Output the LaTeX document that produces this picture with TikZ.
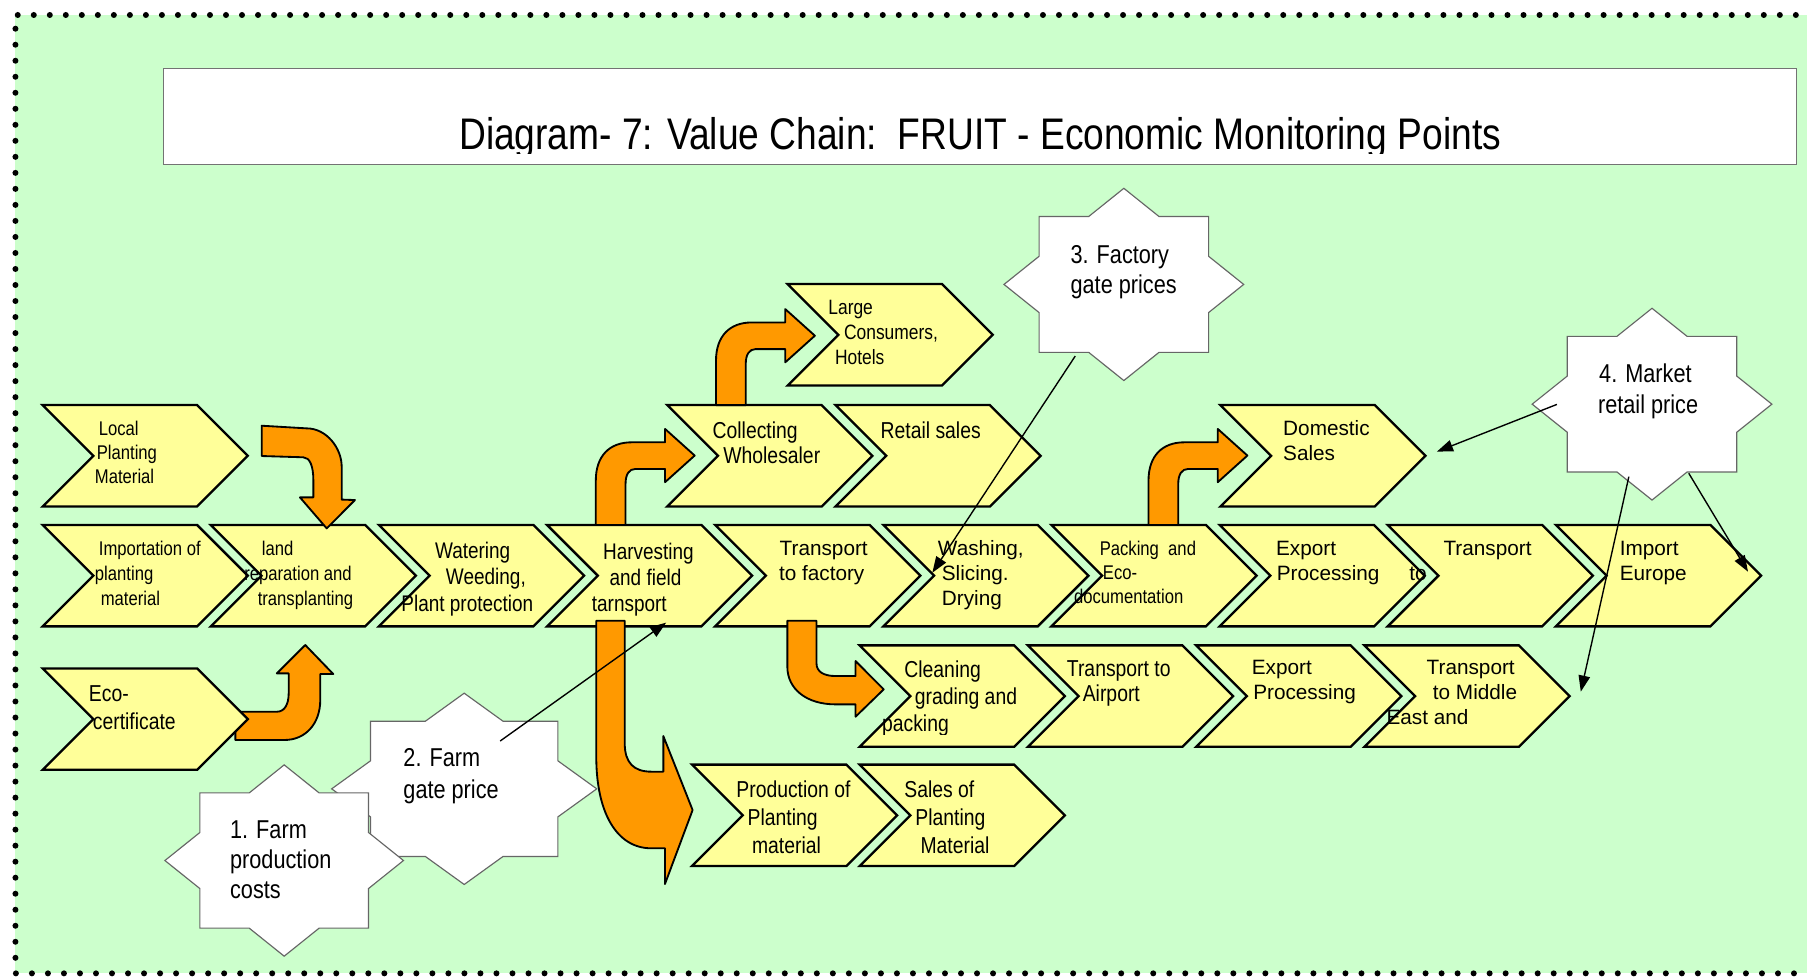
\documentclass[tikz,border=0pt]{standalone}
\usepackage{fontspec}
\setmainfont{Liberation Sans}
\newfontfamily\nar{Liberation Sans}[FakeStretch=0.84]
\newfontfamily\reg{Liberation Sans}
\usetikzlibrary{arrows.meta}
\definecolor{bgc}{HTML}{CCFFCC}
\definecolor{chevc}{HTML}{FFFF99}
\definecolor{orc}{HTML}{FF9900}
\newdimen\upx \upx=0.5pt
\newcommand\ind[1]{\hspace*{#1\upx}}
\newcommand\fs[2]{\fontsize{#1}{#2}\selectfont}
\newcommand\lns[1]{\begin{tabular}[t]{@{}l@{}}#1\end{tabular}}
\newcommand\chevron[3]{%
  \draw[chevsty] (#2,#3) -- ++(134,0) -- ++(44,44) -- ++(-44,44) -- ++(-134,0) -- ++(44,-44) -- cycle;
  \coordinate (#1) at ({#2+89},{#3+44});}
\newcommand\bendup[2]{%
  \draw[orsty,shift={(#1,#2)}] (0,0) -- (0,-38.5) .. controls (0,-60) and (12,-71.7) .. (31,-71.7) -- (60.1,-71.7) -- (60.1,-83.3) -- (85.8,-60.2) -- (60.1,-37.1) -- (60.1,-48.6) -- (34.4,-48.6) .. controls (29,-48.6) and (25.8,-44) .. (25.8,-35.6) -- (25.8,0) -- cycle;}
\newcommand\starb[4]{%
  \draw[starsty] ({#1},{#2-#4}) -- ({#1+0.293*#3},{#2-0.707*#4}) -- ({#1+0.707*#3},{#2-0.707*#4}) -- ({#1+0.707*#3},{#2-0.293*#4}) -- ({#1+#3},{#2}) -- ({#1+0.707*#3},{#2+0.293*#4}) -- ({#1+0.707*#3},{#2+0.707*#4}) -- ({#1+0.293*#3},{#2+0.707*#4}) -- ({#1},{#2+#4}) -- ({#1-0.293*#3},{#2+0.707*#4}) -- ({#1-0.707*#3},{#2+0.707*#4}) -- ({#1-0.707*#3},{#2+0.293*#4}) -- ({#1-#3},{#2}) -- ({#1-0.707*#3},{#2-0.293*#4}) -- ({#1-0.707*#3},{#2-0.707*#4}) -- ({#1-0.293*#3},{#2-0.707*#4}) -- cycle;}
\begin{document}
\begin{tikzpicture}[x=0.5pt,y=-0.5pt,
  chevsty/.style={fill=chevc,draw=black,line width=1pt,line join=miter},
  orsty/.style={fill=orc,draw=black,line width=0.8pt,line join=round},
  starsty/.style={fill=white,draw=black!60,line width=0.5pt},
  lbl/.style={anchor=base west,inner sep=0pt,outer sep=0pt},
  pointer/.style={draw=black,line width=0.6pt,-{Triangle[length=7pt,width=5pt]}},
  dotline/.style={line width=2.6pt,line cap=round,dash pattern=on 0pt off 6.95pt}]
\useasboundingbox (0,0) rectangle (1568,847);
\begin{scope}
\clip (0,0) rectangle (1568,847);
\fill[bgc] (13.4,13) rectangle (1600,844.6);
\draw[dotline] (1600,13) -- (13.4,13) -- (13.4,844.6) -- (1600,844.6);
\end{scope}
% title
\draw[fill=white,draw=black!55,line width=0.7pt] (142,59.3) rectangle (1559,142.6);
\begin{scope}
\clip (142,59.3) rectangle (1559,133.5);
\node[anchor=base,inner sep=0pt] (title) at (850.5,130) {\nar\fs{19.2}{22}Diagram- 7: Value Chain:\ \ FRUIT - Economic Monitoring Points};
\end{scope}
% eco arrow (behind chevron)
\draw[orsty] (204.2,642.1) -- (204.2,617.6) -- (240.2,617.6) .. controls (247,617.6) and (250.5,611) .. (250.5,601.6) -- (250.5,584.3) -- (240.2,584.3) -- (264.9,559.7) -- (289.2,584.9) -- (277.9,584.9) -- (277.9,607.4) .. controls (277.9,628) and (265,642.1) .. (247,642.1) -- cycle;
% chevrons
\chevron{cLocal}{37}{351.5}
\chevron{cColl}{579}{351.5}
\chevron{cRetail}{725}{351.5}
\chevron{cDom}{1059}{351.5}
\chevron{cLarge}{683.5}{246.5}
\foreach \i/\n in {0/cImp,1/cLand,2/cWater,3/cHarv,4/cTfac,5/cWash,6/cPack,7/cExp,8/cTr,9/cEur}{\chevron{\n}{37+145.9*\i}{455.5}}
\chevron{cClean}{746}{560}
\chevron{cAir}{892}{560}
\chevron{cExp2}{1038}{560}
\chevron{cME}{1184}{560}
\chevron{cProd}{600.5}{663.5}
\chevron{cSales}{746}{663.5}
\chevron{cEco}{37}{580}
% orange arrows
\draw[orsty] (227.1,369.4) -- (266.1,371.7) .. controls (283.5,371.7) and (296.5,389) .. (296.5,405) -- (296.5,433.5) -- (308,433.9) -- (283.5,458.5) -- (260.3,431.6) -- (271.9,431.6) -- (271.9,416.5) .. controls (271.9,405) and (269,396.8) .. (263.2,396.8) -- (227.1,395.7) -- cycle;
\bendup{517}{455.5}
\bendup{996.6}{455.5}
\bendup{621.3}{351.5}
\draw[orsty] (517.4,538.6) -- (542.1,538.6) -- (542.1,645) .. controls (542.1,662) and (550,669.6) .. (565.2,669.6) -- (575.6,669.6) -- (575.6,638.7) -- (601,702.9) -- (577,767.1) -- (577,736.1) -- (565.2,736.1) .. controls (535,736.1) and (517.4,705) .. (517.4,656.6) -- cycle;
\draw[orsty] (683.2,538.6) -- (708.5,538.6) -- (708.5,575.6) .. controls (708.5,583) and (715,586.6) .. (725,586.6) -- (742.4,586.6) -- (742.4,573.6) -- (766.8,598.2) -- (742.4,621.9) -- (742.4,611.2) -- (725,611.2) .. controls (700,611.2) and (683.2,598) .. (683.2,578.5) -- cycle;
% labels
\node[lbl] (tLocal) at (82.4,377.5) {\nar\fs{8.6}{10.6}\lns{\ind{3.4}Local\\\ind{1.6}Planting\\Material}};
\node[lbl] (tImp) at (82.4,481.6) {\nar\fs{8.6}{10.85}\lns{\ind{3.4}Importation of\\planting\\\ind{5.1}material}};
\node[lbl] (tLand) at (212,481.6) {\nar\fs{8.6}{10.9}\lns{\ind{15.2}land\\reparation and\\\ind{11.7}transplanting}};
\node[lbl] (tWater) at (348.3,484.5) {\nar\fs{9.8}{11.5}\lns{\ind{29.2}Watering\\\ind{38.7}Weeding,\\Plant protection}};
\node[lbl] (tHarv) at (513.6,485.1) {\nar\fs{9.8}{11.4}\lns{\ind{9.7}Harvesting\\\ind{15.4}and field\\tarnsport}};
\node[lbl] (tTfac) at (676,482.2) {\reg\fs{9}{10.55}\lns{\ind{0.6}Transport\\to factory}};
\node[lbl] (tWash) at (813.9,482.2) {\reg\fs{9}{10.85}\lns{Washing,\\\ind{3.4}Slicing.\\\ind{3.4}Drying}};
\node[lbl] (tPack) at (932,481.6) {\nar\fs{8.6}{10.6}\lns{\ind{22.3}Packing\ \ and\\\ind{25.1}Eco-\\documentation}};
\node[lbl] (tExp) at (1107.3,481.6) {\reg\fs{9}{10.85}\lns{Export\\\ind{0.7}Processing\hspace{13pt}to}};
\node[lbl] (tTr) at (1252.6,481.6) {\reg\fs{9}{10.85}Transport};
\node[lbl] (tEur) at (1405.6,481.6) {\reg\fs{9}{10.85}\lns{Import\\Europe}};
\node[lbl] (tColl) at (618.4,380.4) {\nar\fs{10}{11.1}\lns{Collecting\\\ind{9.3}Wholesaler}};
\node[lbl] (tRetail) at (764.2,380.4) {\nar\fs{10}{11.1}Retail sales};
\node[lbl] (tLarge) at (718.8,273.3) {\nar\fs{9}{10.65}\lns{Large\\\ind{13.6}Consumers,\\\ind{5.8}Hotels}};
\node[lbl] (tDom) at (1113.5,378.3) {\reg\fs{9}{10.85}\lns{Domestic\\Sales}};
\node[lbl] (tEco) at (77.2,608.9) {\nar\fs{10}{12}\lns{Eco-\\\ind{3.4}certificate}};
\begin{scope}
\clip (700,560) rectangle (950,637.5);
\node[lbl] (tClean) at (765.4,587.8) {\nar\fs{10}{11.75}\lns{\ind{19.4}Cleaning\\\ind{28.4}grading and\\packing}};
\end{scope}
\node[lbl] (tAir) at (925.8,587.2) {\nar\fs{10}{10.85}\lns{Transport to\\\ind{13.8}Airport}};
\node[lbl] (tExp2) at (1086.3,585.7) {\reg\fs{9}{10.85}\lns{Export\\\ind{1.2}Processing}};
\node[lbl] (tME) at (1203.2,585.7) {\reg\fs{9}{10.65}\lns{\ind{34.8}Transport\\\ind{40.2}to Middle\\East and}};
\node[lbl] (tProd) at (639,692.2) {\nar\fs{10}{12.1}\lns{Production of\\\ind{9.8}Planting\\\ind{13.6}material}};
\node[lbl] (tSales) at (784.8,692.2) {\nar\fs{10}{12.1}\lns{Sales of\\\ind{9.5}Planting\\\ind{14}Material}};
% stars
\starb{975.2}{246.8}{104}{83.4}
\node[lbl] (s3) at (929,228.5) {\nar\fs{11.2}{13}\lns{3. Factory\\gate prices}};
\starb{1433.5}{350.7}{104}{83.2}
\node[lbl] (s4) at (1386.7,332) {\nar\fs{11.2}{13.35}\lns{\ind{1}4. Market\\retail price}};
\starb{402.8}{684.5}{115}{83}
\node[lbl] (s2) at (350.1,665.3) {\nar\fs{11.2}{13.75}\lns{2. Farm\\gate price}};
\starb{246.6}{746.7}{103.5}{83}
\node[lbl] (s1) at (199.7,727.5) {\nar\fs{11.2}{13}\lns{1. Farm\\production\\costs}};
% pointers
\coordinate (s3from) at (933,309);
\coordinate (washto) at (809,497);
\coordinate (s2from) at (434,643);
\coordinate (harvto) at (578,540.3);
\coordinate (s4a) at (1351,350.9);
\coordinate (domto) at (1246.8,391.9);
\coordinate (s4b) at (1413.4,413.6);
\coordinate (meto) at (1371.7,600.2);
\coordinate (s4c) at (1465.4,410.7);
\coordinate (eurto) at (1516.8,496.1);
\draw[pointer] (s3from) -- (washto);
\draw[pointer] (s2from) -- (harvto);
\draw[pointer] (s4a) -- (domto);
\draw[pointer] (s4b) -- (meto);
\draw[pointer] (s4c) -- (eurto);
\end{tikzpicture}
\end{document}
